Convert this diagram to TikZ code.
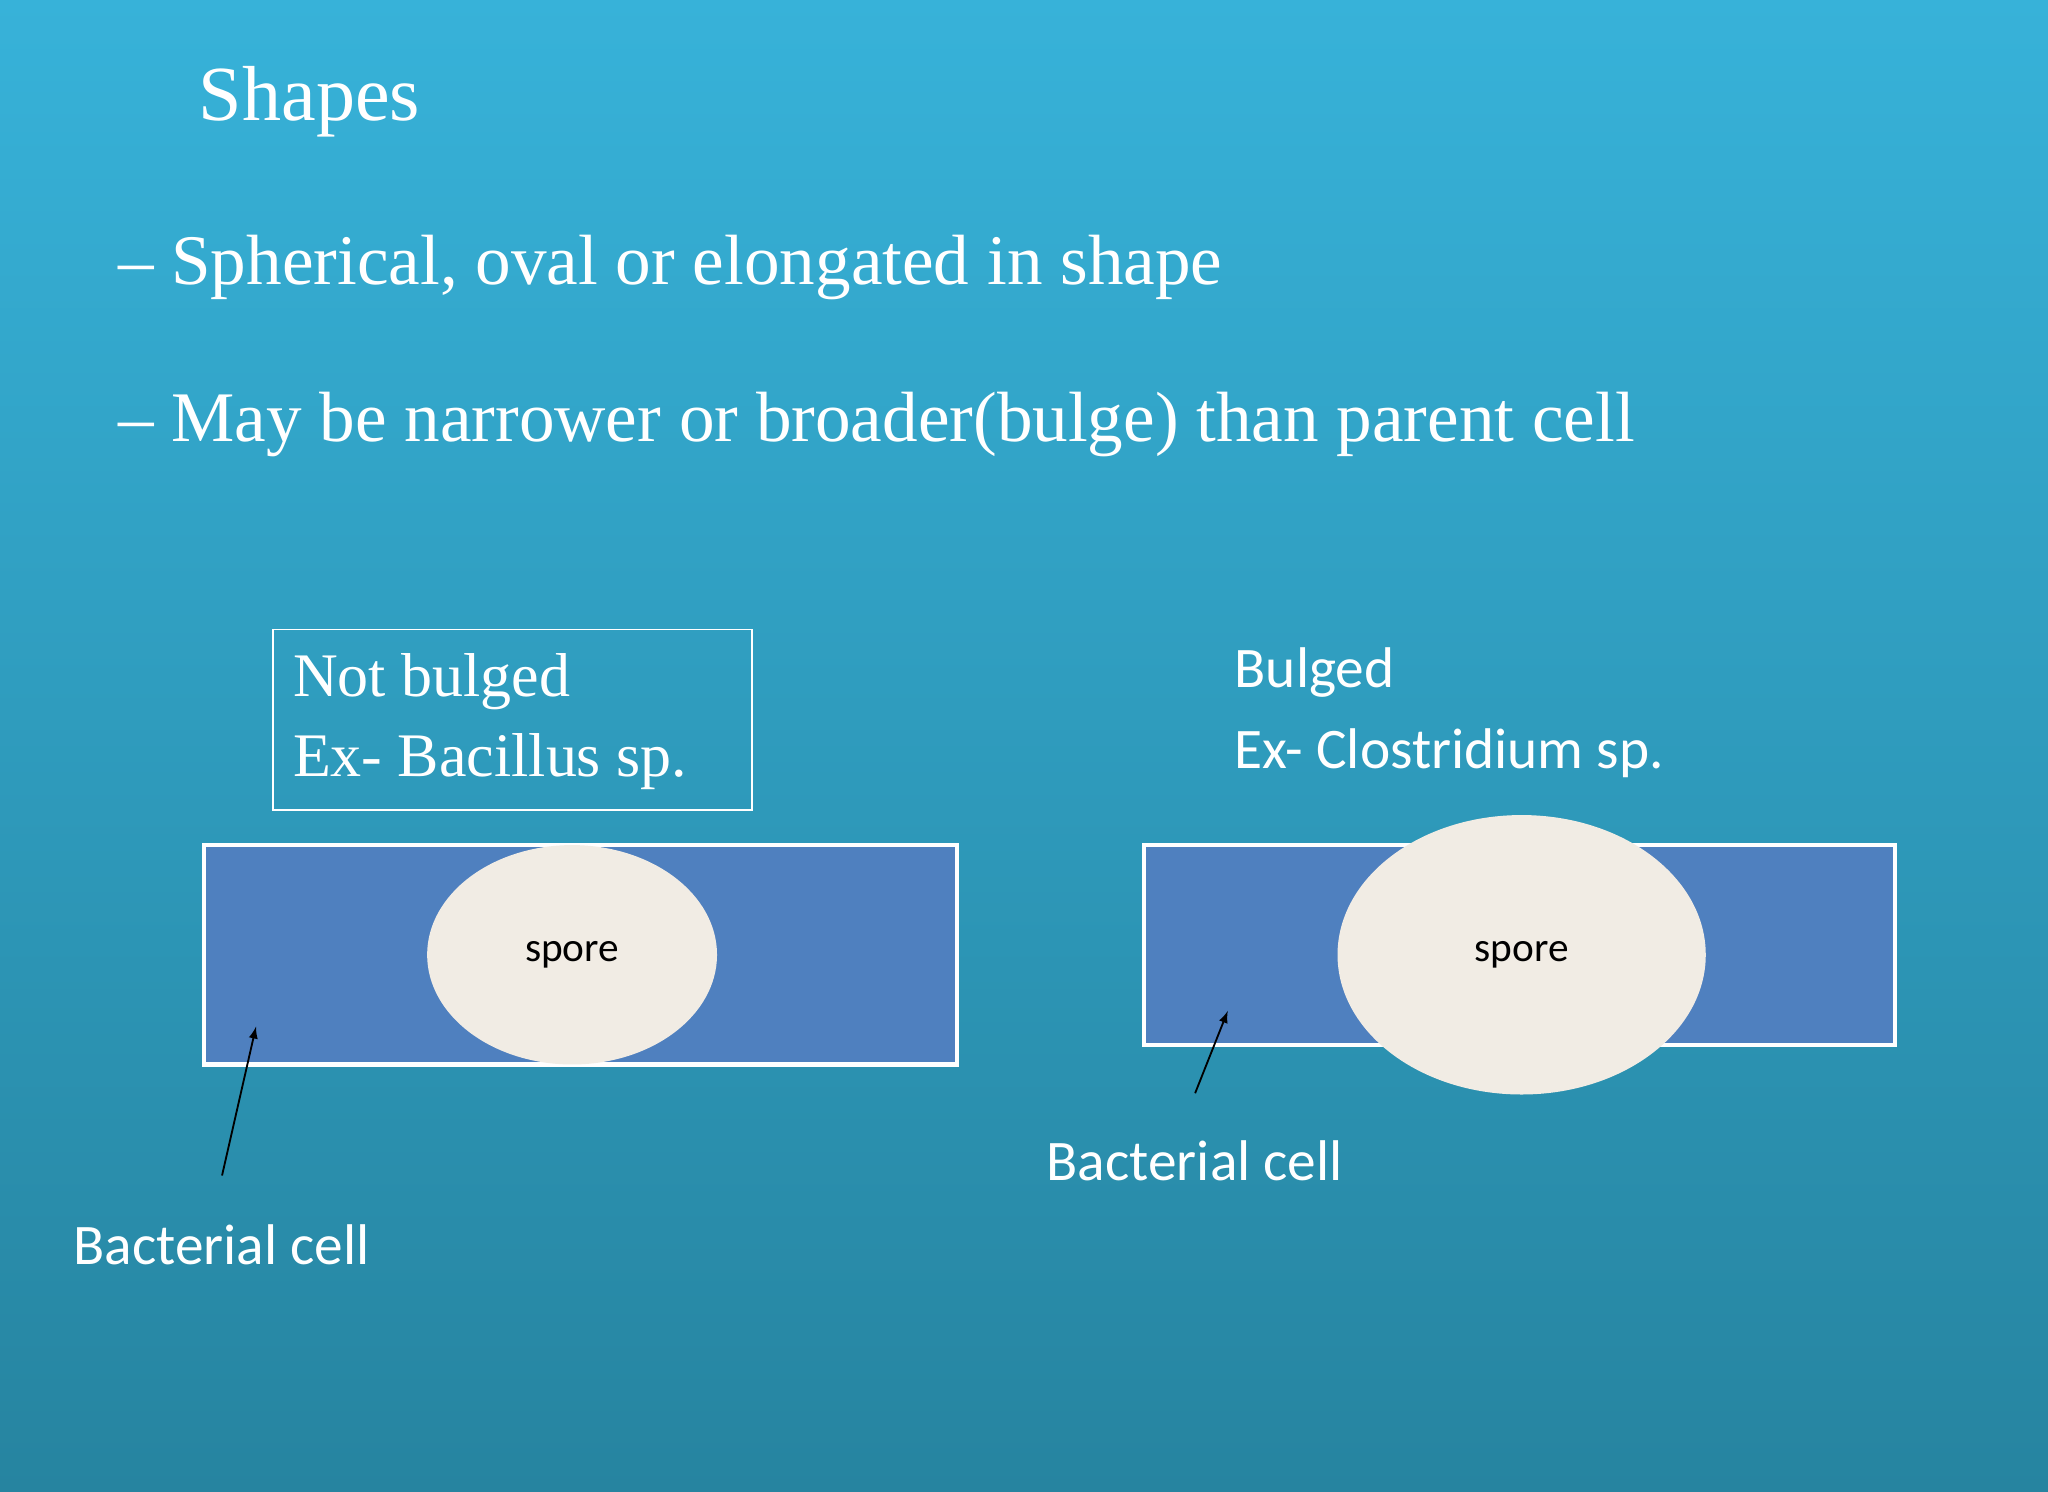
\documentclass[tikz,border=0pt]{standalone}
\usepackage{fontspec}
\setmainfont{Liberation Serif}
\newfontfamily\carlitofont{Carlito}
\usetikzlibrary{shapes.geometric}
\begin{document}
\begin{tikzpicture}[x=0.02cm,y=-0.02cm,
  cellbox/.style={draw=white,line width=1.8pt,fill=cellblue},
  sporeshape/.style={ellipse,fill=sporecol,inner sep=0pt},
  txt/.style={text=white,anchor=west,inner sep=0pt},
  lbl/.style={text=white,anchor=west,inner sep=0pt,font=\carlitofont\fontsize{25}{30}\selectfont},
  arr/.style={-latex,black,line width=0.8pt}]
\definecolor{cellblue}{HTML}{4F80BF}
\definecolor{sporecol}{HTML}{F1ECE4}
\definecolor{bgtop}{HTML}{37B2D9}
\definecolor{bgbot}{HTML}{2684A0}
\useasboundingbox (0,0) rectangle (1568,1142);
\shade[top color=bgtop,bottom color=bgbot] (0,0) rectangle (1568,1142);
\node[txt,font=\fontsize{34}{40}\selectfont] (title) at (152,78) {Shapes};
\node[txt,font=\fontsize{31}{36}\selectfont] (b1) at (90,205) {– Spherical, oval or elongated in shape};
\node[txt,font=\fontsize{31}{36}\selectfont] (b2) at (90,325) {– May be narrower or broader(bulge) than parent cell};
\draw[white,line width=0.8pt] (209,482) rectangle (576,620);
\node[txt,font=\fontsize{27}{32}\selectfont] (nb) at (224,522) {Not bulged};
\node[txt,font=\fontsize{27}{32}\selectfont] (exb) at (224,583) {Ex- Bacillus sp.};
\node[lbl] (bg) at (945,515) {Bulged};
\node[lbl] (exc) at (945,577) {Ex- Clostridium sp.};
\draw[cellbox] (156,647) rectangle (733,815);
\node[sporeshape,minimum width=4.44cm,minimum height=3.36cm] (s1) at (438,731) {\carlitofont\fontsize{18}{20}\selectfont spore};
\draw[cellbox] (876,647) rectangle (1451,800);
\node[sporeshape,minimum width=5.64cm,minimum height=4.28cm] (s2) at (1165,731) {\carlitofont\fontsize{18}{20}\selectfont spore};
\node[lbl] (bc1) at (56,953) {Bacterial cell};
\node[lbl] (bc2) at (801,889) {Bacterial cell};
\coordinate (a1s) at (170,900); \coordinate (a1e) at (196,786);
\coordinate (a2s) at (915,837); \coordinate (a2e) at (940,774);
\draw[arr] (a1s) -- (a1e);
\draw[arr] (a2s) -- (a2e);
\end{tikzpicture}
\end{document}
